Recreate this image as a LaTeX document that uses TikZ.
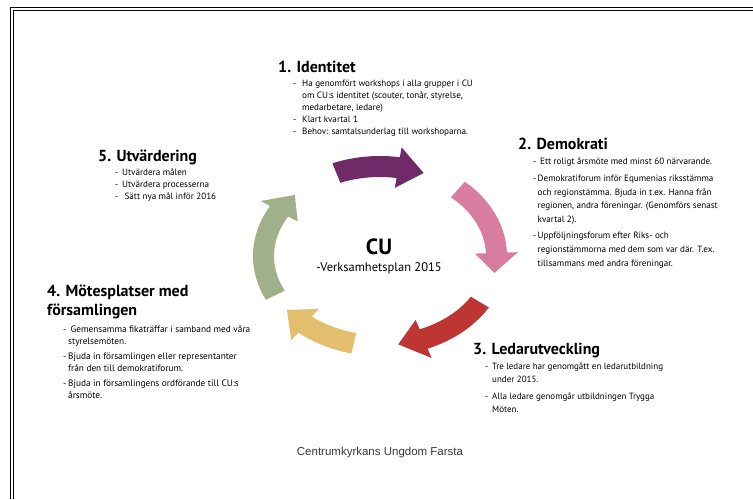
\documentclass[tikz,border=0pt]{standalone}
\usepackage{fontspec}
\setmainfont{PT Sans}
\newfontfamily\footfont{Liberation Sans}
\usetikzlibrary{positioning}

\definecolor{cupurple}{RGB}{112,42,104}
\definecolor{cupink}{RGB}{216,124,160}
\definecolor{cured}{RGB}{190,54,52}
\definecolor{cusand}{RGB}{226,190,110}
\definecolor{cusage}{RGB}{160,176,136}

% dash in front of a list item, and the indent of its next lines
\newcommand{\dl}[1][8pt]{\makebox[#1][l]{-}}
\newcommand{\hi}[1][8pt]{\hspace*{#1}}

\begin{document}
\begin{tikzpicture}[x=1pt, y=-1pt,
    head/.style = {font=\bfseries\fontsize{16}{19}\selectfont, inner sep=0, align=left},
    items/.style = {font=\fontsize{9.1}{12}\selectfont, inner sep=0, align=left},
    foot/.style = {font=\footfont\fontsize{11.5}{13}\selectfont, text=black!78, inner sep=0}]
    \useasboundingbox (0,0) rectangle (753,499);
    % page frame
    \draw[line width=0.9pt] (10,499) -- (10,7) -- (753,7);
    \draw[line width=0.9pt] (13.5,499) -- (13.5,10.5) -- (753,10.5);

    % cycle of arrows: tail angle / tip angle / colour
    \begin{scope}[shift={(380,256)}, yscale=-1]
        \foreach \s/\e/\c in {112/68/cupurple, 48/-11/cupink, -31/-81/cured, -103/-143/cusand, 206/137/cusage}{
            \fill[\c] (\s:127 and 100) arc[start angle=\s, end angle=\e+13, x radius=127, y radius=100]
                -- (\e+13:138 and 110) -- (\e:116.5 and 89.5) -- (\e+13:95 and 69) -- (\e+13:106 and 79)
                arc[start angle=\e+13, end angle=\s, x radius=106, y radius=79] -- cycle;
        }
    \end{scope}

    \node[inner sep=0, font=\bfseries\fontsize{22}{24}\selectfont] (cu) at (379,247) {CU};
    \node[inner sep=0, font=\fontsize{12.5}{14}\selectfont] (plan) [below=7pt of cu] {-Verksamhetsplan 2015};

    \node[head, anchor=base west] (id) at (278,72) {1. Identitet};
    \node[items, anchor=north west] (idtxt) [below right=7.5pt and 15pt of id.base west] {\dl[9pt]Ha genomfört workshops i alla grupper i CU\\
        \hi[9pt]om CU:s identitet (scouter, tonår, styrelse,\\
        \hi[9pt]medarbetare, ledare)\\
        \dl[9pt]Klart kvartal 1\\
        \dl[9pt]Behov: samtalsunderlag till workshoparna.};

    \node[head, anchor=base west] (demo) at (518,149) {2. Demokrati};
    \node[items, font=\fontsize{9.1}{13.7}\selectfont] (demotxt) [below right=8.5pt and 15pt of demo.base west] {\dl[4.5pt] Ett roligt årsmöte med minst 60 närvarande.\\[3.5pt]
        \dl[4.5pt]Demokratiforum inför Equmenias riksstämma\\
        \hi[4.5pt]och regionstämma. Bjuda in t.ex. Hanna från\\
        \hi[4.5pt]regionen, andra föreningar. (Genomförs senast\\
        \hi[4.5pt]kvartal 2).\\[2.5pt]
        \dl[4.5pt]Uppföljningsforum efter Riks- och\\
        \hi[4.5pt]regionstämmorna med dem som var där. T.ex.\\
        \hi[4.5pt]tillsammans med andra föreningar.};

    \node[head, anchor=base west] (led) at (473,354) {3. Ledarutveckling};
    \node[items, font=\fontsize{9}{13}\selectfont] (ledtxt) [below right=8.5pt and 12pt of led.base west] {\dl[7pt]Tre ledare har genomgått en ledarutbildning\\
        \hi[7pt]under 2015.\\[4pt]
        \dl[7pt]Alla ledare genomgår utbildningen Trygga\\
        \hi[7pt]Möten.};

    \node[head, anchor=base west] (mote) at (47,315) {4. Mötesplatser med\\församlingen};
    \node[items, font=\fontsize{9.3}{12.5}\selectfont] (motetxt) [below right=6.5pt and 16pt of mote.south west] {\dl[5pt] Gemensamma fikaträffar i samband med våra\\
        \hi[5pt]styrelsemöten.\\[2pt]
        \dl[5pt]Bjuda in församlingen eller representanter\\
        \hi[5pt]från den till demokratiforum.\\[2pt]
        \dl[5pt]Bjuda in församlingens ordförande till CU:s\\
        \hi[5pt]årsmöte.};

    \node[head, anchor=base west] (utv) at (98,161) {5. Utvärdering};
    \node[items] (utvtxt) [below right=7.5pt and 17pt of utv.base west] {\dl[7pt]Utvärdera målen\\
        \dl[7pt]Utvärdera processerna\\
        \dl[7pt]\ Sätt nya mål inför 2016};

    \node[foot] (foot) at (380,453) {Centrumkyrkans Ungdom Farsta};
\end{tikzpicture}
\end{document}
